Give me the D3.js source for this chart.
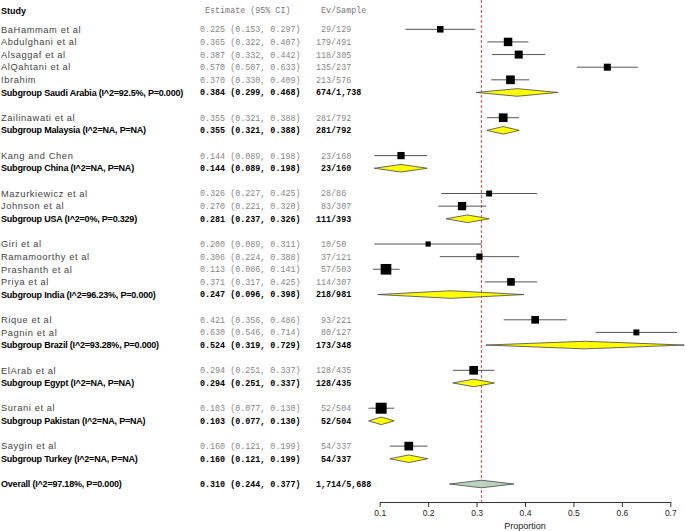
<!DOCTYPE html>
<html>
<head>
<meta charset="utf-8">
<script src="https://cdn.jsdelivr.net/npm/d3@7"></script>
<style>
  body { margin: 0; background: #fff; }
  svg { display: block; }
  .sans { font-family: "Liberation Sans", Arial, sans-serif; }
  .mono { font-family: "Liberation Mono", "Courier New", monospace; white-space: pre; }
</style>
</head>
<body>
<div id="chart"></div>
<script>
const studyNames = ["BaHammam et al", "Abdulghani et al", "Alsaggaf et al", "AlQahtani et al", "Ibrahim",
    "Zailinawati et al", "Kang and Chen", "Mazurkiewicz et al", "Johnson et al", "Giri et al",
    "Ramamoorthy et al", "Prashanth et al", "Priya et al", "Rique et al", "Pagnin et al",
    "ElArab et al", "Surani et al", "Saygin et al"];
const studyGroup = ["Saudi Arabia", "Saudi Arabia", "Saudi Arabia", "Saudi Arabia", "Saudi Arabia",
    "Malaysia", "China", "USA", "USA", "India", "India", "India", "India", "Brazil", "Brazil",
    "Egypt", "Pakistan", "Turkey"];
const studyEst = [0.225, 0.365, 0.387, 0.570, 0.370, 0.355, 0.144, 0.326, 0.270, 0.200, 0.306, 0.113, 0.371, 0.421, 0.630, 0.294, 0.103, 0.160];
const studyLower = [0.153, 0.322, 0.332, 0.507, 0.330, 0.321, 0.089, 0.227, 0.221, 0.089, 0.224, 0.086, 0.317, 0.356, 0.546, 0.251, 0.077, 0.121];
const studyUpper = [0.297, 0.407, 0.442, 0.633, 0.409, 0.388, 0.198, 0.425, 0.320, 0.311, 0.388, 0.141, 0.425, 0.486, 0.714, 0.337, 0.130, 0.199];
const studyEvents = [29, 179, 118, 135, 213, 281, 23, 28, 83, 10, 37, 57, 114, 93, 80, 128, 52, 54];
const studyTotal = [129, 491, 305, 237, 576, 792, 160, 86, 307, 50, 121, 503, 307, 221, 127, 435, 504, 337];
// weights
const studyWeight = [3.7, 6.3, 5.6, 4.3, 6.6, 6.6, 4.6, 3.1, 6.0, 2.4, 3.5, 9.9, 5.1, 5.1, 3.1, 6.6, 10.6, 6.6];

const groupNames = ["Saudi Arabia", "Malaysia", "China", "USA", "India", "Brazil", "Egypt", "Pakistan", "Turkey"];
const groupHet = ["I^2=92.5%, P=0.000", "I^2=NA, P=NA", "I^2=NA, P=NA", "I^2=0%, P=0.329", "I^2=96.23%, P=0.000",
    "I^2=93.28%, P=0.000", "I^2=NA, P=NA", "I^2=NA, P=NA", "I^2=NA, P=NA"];
const groupEst = [0.384, 0.355, 0.144, 0.281, 0.247, 0.524, 0.294, 0.103, 0.160];
const groupLower = [0.299, 0.321, 0.089, 0.237, 0.096, 0.319, 0.251, 0.077, 0.121];
const groupUpper = [0.468, 0.388, 0.198, 0.326, 0.398, 0.729, 0.337, 0.130, 0.199];
const groupEvents = [674, 281, 23, 111, 218, 173, 128, 52, 54];
const groupTotal = [1738, 792, 160, 393, 981, 348, 435, 504, 337];

const overallHet = "I^2=97.18%, P=0.000";
const overallEst = 0.310, overallLower = 0.244, overallUpper = 0.377;
const overallEvents = 1714, overallTotal = 5688;

const xTicks = [0.1, 0.2, 0.3, 0.4, 0.5, 0.6, 0.7];

const width = 685, height = 531;
const fmt3 = d3.format(".3f");
const fmtN = d3.format(",");

// build the row list: studies, subgroup summary, blank line
let rows = [];
groupNames.forEach((g, gi) => {
    studyNames.forEach((name, i) => {
        if (studyGroup[i] === g) {
            rows.push({type: "study", label: name, est: studyEst[i], lo: studyLower[i], hi: studyUpper[i],
                ev: studyEvents[i], n: studyTotal[i], w: studyWeight[i]});
        }
    });
    rows.push({type: "group", label: `Subgroup ${g} (${groupHet[gi]})`, est: groupEst[gi], lo: groupLower[gi],
        hi: groupUpper[gi], ev: groupEvents[gi], n: groupTotal[gi]});
    rows.push({type: "blank"});
});
rows.push({type: "overall", label: `Overall (${overallHet})`, est: overallEst, lo: overallLower, hi: overallUpper,
    ev: overallEvents, n: overallTotal});
rows.forEach((r, i) => r.row = i);

const svg = d3.select("#chart").append("svg")
    .attr("width", width)
    .attr("height", height);

const x = d3.scaleLinear().domain([0.1, 0.7]).range([379.7, 670.3]);
const y = d3.scaleLinear().domain([0, rows.length - 1]).range([29.3, 484]);
const boxSize = d3.scaleSqrt().domain([0, 10.6]).range([0, 11]);

// header
const headerY = y(-1.5);
svg.append("text").attr("class", "sans").attr("x", 1).attr("y", headerY).attr("dy", "0.35em")
    .attr("font-size", 9).attr("font-weight", "bold").text("Study");
svg.append("text").attr("class", "mono").attr("x", 205).attr("y", headerY).attr("dy", "0.35em")
    .attr("font-size", 8.4).attr("fill", "#777").text("Estimate (95% CI)");
svg.append("text").attr("class", "mono").attr("x", 321).attr("y", headerY).attr("dy", "0.35em")
    .attr("font-size", 8.4).attr("fill", "#777").text("Ev/Sample");

const textRows = rows.filter(r => r.type !== "blank");

svg.selectAll("labelText")
    .data(textRows)
    .enter()
    .append("text")
    .attr("class", "sans")
    .attr("x", 1)
    .attr("y", d => y(d.row))
    .attr("dy", "0.35em")
    .attr("font-size", d => d.type === "study" ? 9.3 : 9)
    .attr("letter-spacing", d => d.type === "study" ? 0.6 : -0.2)
    .attr("font-weight", d => d.type === "study" ? "normal" : "bold")
    .attr("fill", d => d.type === "study" ? "#444" : "#000")
    .text(d => d.label);

svg.selectAll("estText")
    .data(textRows)
    .enter()
    .append("text")
    .attr("class", "mono")
    .attr("x", 200)
    .attr("y", d => y(d.row))
    .attr("dy", "0.35em")
    .attr("font-size", 8.4)
    .attr("font-weight", d => d.type === "study" ? "normal" : "bold")
    .attr("fill", d => d.type === "study" ? "#888" : "#000")
    .text(d => `${fmt3(d.est)} (${fmt3(d.lo)}, ${fmt3(d.hi)})`);

svg.selectAll("evText")
    .data(textRows)
    .enter()
    .append("text")
    .attr("class", "mono")
    .attr("x", 316)
    .attr("y", d => y(d.row))
    .attr("dy", "0.35em")
    .attr("font-size", 8.4)
    .attr("font-weight", d => d.type === "study" ? "normal" : "bold")
    .attr("fill", d => d.type === "study" ? "#888" : "#000")
    .text(d => `${fmtN(d.ev).padStart(3, " ")}/${fmtN(d.n)}`);

// reference line at overall estimate
svg.append("line")
    .attr("x1", x(overallEst)).attr("x2", x(overallEst))
    .attr("y1", 0).attr("y2", 502)
    .attr("stroke", "#e0484a")
    .attr("stroke-width", 1)
    .attr("stroke-dasharray", "3,2");

const studyRows = rows.filter(r => r.type === "study");

svg.selectAll("ciLine")
    .data(studyRows)
    .enter()
    .append("line")
    .attr("x1", d => x(d.lo))
    .attr("x2", d => x(d.hi))
    .attr("y1", d => y(d.row))
    .attr("y2", d => y(d.row))
    .attr("stroke", "#555")
    .attr("stroke-width", 1);

svg.selectAll("box")
    .data(studyRows)
    .enter()
    .append("rect")
    .attr("x", d => x(d.est) - boxSize(d.w) / 2)
    .attr("y", d => y(d.row) - boxSize(d.w) / 2)
    .attr("width", d => boxSize(d.w))
    .attr("height", d => boxSize(d.w))
    .attr("fill", "#000");

const diamondRows = rows.filter(r => r.type === "group" || r.type === "overall");
const halfH = 3.8;

svg.selectAll("diamond")
    .data(diamondRows)
    .enter()
    .append("path")
    .attr("d", d => {
        const cy = y(d.row);
        return `M${x(d.lo)},${cy}L${x(d.est)},${cy - halfH}L${x(d.hi)},${cy}L${x(d.est)},${cy + halfH}Z`;
    })
    .attr("fill", d => d.type === "overall" ? "#bcd3c2" : "#ffff00")
    .attr("stroke", "#444")
    .attr("stroke-width", 0.8);

// axis
const axis = svg.append("g")
    .attr("transform", "translate(0,502)")
    .call(d3.axisBottom(x).tickValues(xTicks).tickFormat(d3.format(".1f")).tickSize(5).tickSizeOuter(0));
axis.select(".domain").attr("stroke", "#333");
axis.selectAll(".tick line").attr("stroke", "#333");
axis.selectAll(".tick text")
    .attr("class", "sans")
    .attr("font-size", 8.5)
    .attr("fill", "#222")
    .attr("y", 8);

svg.append("text")
    .attr("class", "sans")
    .attr("x", (x(0.1) + x(0.7)) / 2)
    .attr("y", 526)
    .attr("dy", "0.35em")
    .attr("text-anchor", "middle")
    .attr("font-size", 9)
    .attr("fill", "#222")
    .text("Proportion");
</script>
</body>
</html>
